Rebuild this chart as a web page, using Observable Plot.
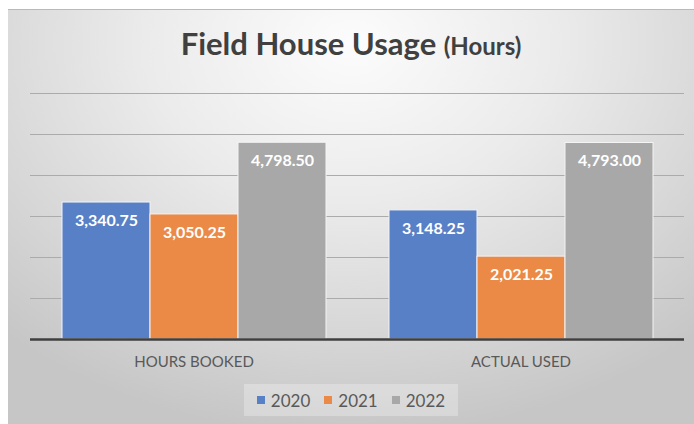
<!DOCTYPE html>
<html>
<head>
<meta charset="utf-8">
<script src="https://cdn.jsdelivr.net/npm/d3@7"></script>
<script src="https://cdn.jsdelivr.net/npm/@observablehq/plot@0.6"></script>
<style>
  html, body { margin: 0; padding: 0; background: #ffffff; }
  body { width: 694px; height: 424px; overflow: hidden; position: relative; font-family: Lato, "Open Sans", sans-serif; }
  #chart {
    position: absolute; left: 8px; top: 9px; width: 686px; height: 415px;
    background: radial-gradient(ellipse 75% 95% at 50% 8%, #fcfcfc 0%, #ebebeb 40%, #d6d6d6 75%, #c6c6c6 100%);
    border-top: 1px solid #b9b9b9;
    box-sizing: border-box;
  }
  #title {
    height: 70px; box-sizing: border-box; padding-top: 18px;
    text-align: center; color: #404040; font-weight: 700; font-size: 31px; line-height: 31px;
  }
  #title .sub { font-size: 24px; line-height: 24px; }
  #plot svg { display: block; }
  #legend {
    display: flex; justify-content: center; margin-top: 9px;
  }
  #legend .box {
    display: flex; align-items: center; gap: 14px; padding: 0 13px; height: 32px;
    background: rgba(255,255,255,0.28);
  }
  #legend .item { display: flex; align-items: center; gap: 6px; font-size: 17px; color: #595959; }
  #legend .sw { width: 8px; height: 8px; display: inline-block; }
</style>
</head>
<body>
<div id="chart">
  <div id="title">Field House Usage <span class="sub">(Hours)</span></div>
  <div id="plot"></div>
  <div id="legend"><div class="box"></div></div>
</div>
<script>
const categories = ["HOURS BOOKED", "ACTUAL USED"];
const years = ["2020", "2021", "2022"];
const values2020 = [3340.75, 3148.25];
const values2021 = [3050.25, 2021.25];
const values2022 = [4798.50, 4793.00];
const yearColors = ["#5880c7", "#eb8a47", "#a8a8a8"];
const yGridTicks = [1000, 2000, 3000, 4000, 5000, 6000];

const seriesValues = [values2020, values2021, values2022];
const data = [];
categories.forEach((c, i) => {
  years.forEach((y, j) => {
    data.push({category: c, year: y, value: seriesValues[j][i]});
  });
});

const fmt = d3.format(",.2f");

const chart = Plot.plot({
  width: 686,
  height: 295,
  marginLeft: 22,
  marginRight: 10,
  marginTop: 13,
  marginBottom: 36,
  style: {fontFamily: "Lato, 'Open Sans', sans-serif", background: "transparent", overflow: "visible"},
  fx: {domain: categories, padding: 0, label: null},
  x: {domain: years, paddingInner: 0, paddingOuter: 0.344, axis: null},
  y: {domain: [0, 6000], axis: null},
  color: {domain: years, range: yearColors},
  marks: [
    Plot.gridY(yGridTicks, {stroke: "#ababab", strokeOpacity: 1, strokeWidth: 1}),
    Plot.barY(data, {fx: "category", x: "year", y: "value", fill: "year", stroke: "#f4f4f4", strokeWidth: 1}),
    Plot.text(data, {fx: "category", x: "year", y: "value", text: d => fmt(d.value), dy: 18,
      fill: "white", fontWeight: "bold", fontSize: 16}),
    Plot.ruleY([0], {stroke: "#3f3f3f", strokeWidth: 2.5}),
    Plot.axisFx({anchor: "bottom", tickSize: 0, tickPadding: 17, fontSize: 15, fill: "#595959", label: null})
  ]
});
document.getElementById("plot").appendChild(chart);

const box = document.querySelector("#legend .box");
years.forEach((y, i) => {
  const item = document.createElement("div");
  item.className = "item";
  const sw = document.createElement("span");
  sw.className = "sw";
  sw.style.background = yearColors[i];
  item.appendChild(sw);
  item.appendChild(document.createTextNode(y));
  box.appendChild(item);
});
</script>
</body>
</html>
